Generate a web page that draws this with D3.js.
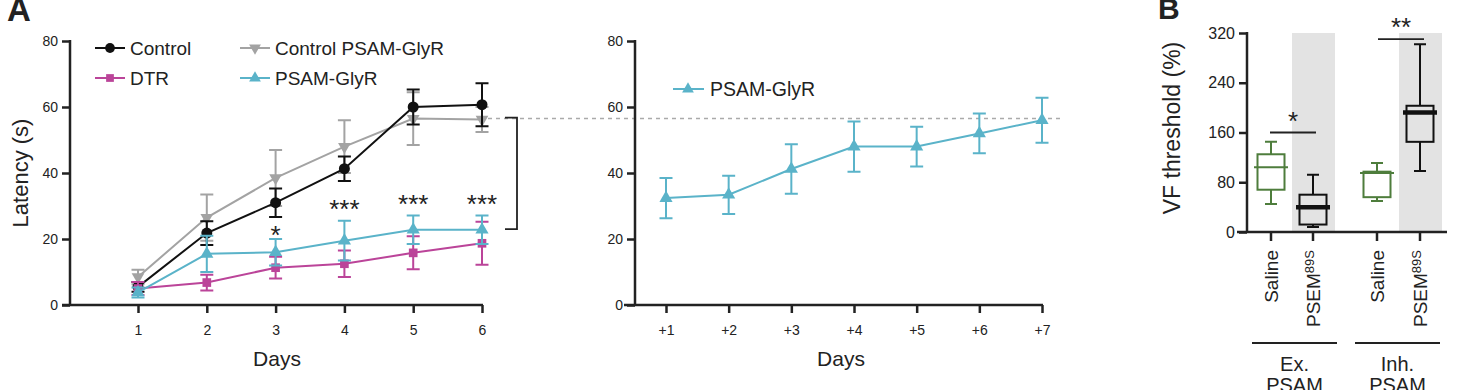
<!DOCTYPE html>
<html>
<head>
<meta charset="utf-8">
<script src="https://cdn.jsdelivr.net/npm/d3@7"></script>
<style>
  body { margin: 0; background: #fff; }
  text { font-family: Arial, "Liberation Sans", Helvetica, sans-serif; fill: #222; }
</style>
</head>
<body>
<div id="chart"></div>
<script>
// ---- data ----
var days = [1, 2, 3, 4, 5, 6];
var control      = [5.5, 21.8, 31, 41.3, 60, 60.7];
var controlErr   = [1.5, 3.6, 4.3, 3.7, 5.3, 6.5];
var ctrlPsam     = [8.5, 26.5, 38.5, 48, 56.5, 56.2];
var ctrlPsamErr  = [2.2, 7, 8.5, 8, 8, 3.8];
var dtr          = [5, 6.8, 11.3, 12.5, 15.8, 18.7];
var dtrErr       = [2, 2.4, 3.3, 4, 5, 6.5];
var psam         = [3.8, 15.5, 16, 19.5, 22.8, 22.8];
var psamErr      = [1.5, 5.5, 4, 6, 4.3, 4.3];
var starsA       = [null, null, '*', '***', '***', '***'];
var starLevel    = [null, null, 23, 31, 32.5, 32.5];

var recDays = ['+1', '+2', '+3', '+4', '+5', '+6', '+7'];
var recovery    = [32.4, 33.4, 41.2, 48, 48, 52, 56];
var recoveryErr = [6.1, 5.8, 7.5, 7.6, 6, 6, 6.8];
var baseline = 56.5;

var groupsB = ['Saline', 'PSEM', 'Saline', 'PSEM'];
var boxMin  = [45, 8, 50, 98];
var boxQ1   = [68, 12, 56, 145];
var boxMed  = [104, 40, 95, 192];
var boxQ3   = [125, 60, 97, 203];
var boxMax  = [145, 92, 111, 302];
var boxCol  = ['#4e7d3c', '#111', '#4e7d3c', '#111'];

var colBlack = '#111', colGray = '#a3a3a3', colMag = '#bb4499', colCyan = '#5ab3c9';

var svg = d3.select('#chart').append('svg')
            .attr('width', 1469).attr('height', 390);

function styleAxis(g, fs) {
  g.selectAll('path, line').attr('stroke', '#222').attr('stroke-width', 2.5);
  g.selectAll('text').style('font-size', fs + 'px').attr('fill', '#222');
}

// ---- panel A left ----
var yA = d3.scaleLinear().domain([0, 80]).range([305, 41]);
var xA = d3.scaleLinear().domain([1, 6]).range([138, 482]);

svg.append('text').attr('x', 7).attr('y', 21).text('A')
   .style('font-size', '33px').style('font-weight', 'bold').attr('fill', '#111');

// dashed baseline across to the right panel
svg.append('line')
   .attr('x1', 488).attr('x2', 1063)
   .attr('y1', yA(baseline)).attr('y2', yA(baseline))
   .attr('stroke', '#aaa').attr('stroke-width', 1.5).attr('stroke-dasharray', '4,4');

var gyA = svg.append('g').attr('transform', 'translate(70,0)')
             .call(d3.axisLeft(yA).tickValues([0, 20, 40, 60, 80]).tickSize(8).tickSizeOuter(0).tickPadding(4));
styleAxis(gyA, 14);
gyA.select('path').attr('d', 'M0,' + (yA(80) - 1) + 'V' + yA(0));

var gxA = svg.append('g').attr('transform', 'translate(0,305)')
             .call(d3.axisBottom(xA).tickValues(days).tickFormat(d3.format('d'))
                     .tickSize(8).tickSizeOuter(0).tickPadding(12));
styleAxis(gxA, 14);
gxA.select('path').attr('d', 'M62,0H' + (xA(6) + 1));

svg.append('text').attr('transform', 'translate(28,173) rotate(-90)')
   .attr('text-anchor', 'middle').text('Latency (s)').style('font-size', '22px');
svg.append('text').attr('x', 277).attr('y', 366)
   .attr('text-anchor', 'middle').text('Days').style('font-size', '21px');

function drawSeries(xs, x, y, vals, errs, color, shape, size) {
  var g = svg.append('g');
  var pts = xs.map(function(d, i) { return {x: x(d), v: vals[i], e: errs[i]}; });
  g.selectAll('.eb').data(pts).enter().append('path')
   .attr('d', function(d) {
     var t = y(d.v + d.e), b = y(d.v - d.e);
     return 'M' + d.x + ',' + t + 'V' + b +
            'M' + (d.x - 6.5) + ',' + t + 'H' + (d.x + 6.5) +
            'M' + (d.x - 6.5) + ',' + b + 'H' + (d.x + 6.5);
   })
   .attr('stroke', color).attr('stroke-width', 2).attr('fill', 'none');
  g.append('path')
   .datum(pts)
   .attr('d', d3.line().x(function(d) { return d.x; }).y(function(d) { return y(d.v); }))
   .attr('stroke', color).attr('stroke-width', 2).attr('fill', 'none');
  g.selectAll('.mk').data(pts).enter().append('path')
   .attr('transform', function(d) {
     return 'translate(' + d.x + ',' + y(d.v) + ')' + (shape === 'tridown' ? ' rotate(180)' : '');
   })
   .attr('d', d3.symbol().type(shape === 'circle' ? d3.symbolCircle :
                                 shape === 'square' ? d3.symbolSquare : d3.symbolTriangle).size(size))
   .attr('fill', color);
}

drawSeries(days, xA, yA, ctrlPsam, ctrlPsamErr, colGray, 'tridown', 70);
drawSeries(days, xA, yA, control, controlErr, colBlack, 'circle', 95);
drawSeries(days, xA, yA, dtr, dtrErr, colMag, 'square', 75);
drawSeries(days, xA, yA, psam, psamErr, colCyan, 'triangle', 75);

// significance stars
svg.selectAll('.starA').data(days).enter().append('text')
   .filter(function(d, i) { return starsA[i]; })
   .attr('x', function(d) { return xA(d); })
   .attr('y', function(d) { return yA(starLevel[d - 1]) + 15; })
   .attr('text-anchor', 'middle').style('font-size', '26px')
   .text(function(d) { return starsA[d - 1]; });

// bracket
svg.append('path')
   .attr('d', 'M505,' + yA(56.8) + 'H517V' + yA(23) + 'H505')
   .attr('stroke', '#222').attr('stroke-width', 1.8).attr('fill', 'none');

// legend
var legA = [
  {label: 'Control', color: colBlack, shape: 'circle', x: 95, y: 48, size: 75},
  {label: 'Control PSAM-GlyR', color: colGray, shape: 'tridown', x: 240, y: 48, size: 60},
  {label: 'DTR', color: colMag, shape: 'square', x: 95, y: 78, size: 60},
  {label: 'PSAM-GlyR', color: colCyan, shape: 'triangle', x: 240, y: 78, size: 60}
];
var lg = svg.selectAll('.legA').data(legA).enter().append('g');
lg.append('line').attr('x1', function(d) { return d.x; }).attr('x2', function(d) { return d.x + 30; })
  .attr('y1', function(d) { return d.y; }).attr('y2', function(d) { return d.y; })
  .attr('stroke', function(d) { return d.color; }).attr('stroke-width', 2);
lg.append('path')
  .attr('transform', function(d) {
    return 'translate(' + (d.x + 15) + ',' + d.y + ')' + (d.shape === 'tridown' ? ' rotate(180)' : '');
  })
  .attr('d', function(d) {
    return d3.symbol().type(d.shape === 'circle' ? d3.symbolCircle :
                            d.shape === 'square' ? d3.symbolSquare : d3.symbolTriangle).size(d.size)();
  })
  .attr('fill', function(d) { return d.color; });
lg.append('text').attr('x', function(d) { return d.x + 35; }).attr('y', function(d) { return d.y + 7; })
  .text(function(d) { return d.label; }).style('font-size', '19px');

// ---- panel A right ----
var xR = d3.scalePoint().domain(recDays).range([666, 1042]);
var gyR = svg.append('g').attr('transform', 'translate(635,0)')
             .call(d3.axisLeft(yA).tickValues([0, 20, 40, 60, 80]).tickSize(8).tickSizeOuter(0).tickPadding(4));
styleAxis(gyR, 14);
gyR.select('path').attr('d', 'M0,' + (yA(80) - 1) + 'V' + yA(0));
var gxR = svg.append('g').attr('transform', 'translate(0,305)')
             .call(d3.axisBottom(xR).tickSize(8).tickSizeOuter(0).tickPadding(12));
styleAxis(gxR, 14);
gxR.select('path').attr('d', 'M624,0H' + (xR('+7') + 1));
svg.append('text').attr('x', 841).attr('y', 366)
   .attr('text-anchor', 'middle').text('Days').style('font-size', '21px');

drawSeries(recDays, xR, yA, recovery, recoveryErr, colCyan, 'triangle', 75);

var lr = svg.append('g');
lr.append('line').attr('x1', 673).attr('x2', 704).attr('y1', 89).attr('y2', 89)
  .attr('stroke', colCyan).attr('stroke-width', 2);
lr.append('path').attr('transform', 'translate(688,89)')
  .attr('d', d3.symbol().type(d3.symbolTriangle).size(60)).attr('fill', colCyan);
lr.append('text').attr('x', 710).attr('y', 96).text('PSAM-GlyR').style('font-size', '19.5px');

// ---- panel B ----
var yB = d3.scaleLinear().domain([0, 320]).range([232, 33]);
var xB = d3.scaleOrdinal().domain([0, 1, 2, 3]).range([1271, 1313, 1377, 1420]);

svg.append('text').attr('x', 1158).attr('y', 19).text('B')
   .style('font-size', '30px').style('font-weight', 'bold').attr('fill', '#111');

// grey shading behind PSEM groups
svg.selectAll('.shade').data([1, 3]).enter().append('rect')
   .attr('x', function(d) { return xB(d) - 21; }).attr('width', 43)
   .attr('y', yB(320)).attr('height', yB(0) - yB(320))
   .attr('fill', '#e3e3e3');

var gyB = svg.append('g').attr('transform', 'translate(1247,0)')
             .call(d3.axisLeft(yB).tickValues([0, 80, 160, 240, 320]).tickSize(8).tickSizeOuter(0).tickPadding(4));
styleAxis(gyB, 16);
gyB.select('path').attr('d', 'M0,' + (yB(320) - 1) + 'V' + yB(0));
var gxB = svg.append('g').attr('transform', 'translate(0,232)');
gxB.append('path').attr('d', 'M1237,0H1447').attr('stroke', '#222').attr('stroke-width', 2.5);
gxB.selectAll('.tk').data([0, 1, 2, 3]).enter().append('line')
   .attr('x1', function(d) { return xB(d); }).attr('x2', function(d) { return xB(d); })
   .attr('y1', 0).attr('y2', 9).attr('stroke', '#222').attr('stroke-width', 2.5);

svg.append('text').attr('transform', 'translate(1180,128) rotate(-90)')
   .attr('text-anchor', 'middle').text('VF threshold (%)').style('font-size', '23px');

// boxes
var bw = 27;
var bx = svg.selectAll('.box').data([0, 1, 2, 3]).enter().append('g');
bx.append('path')
  .attr('d', function(i) {
    var c = xB(i);
    return 'M' + c + ',' + yB(boxMax[i]) + 'V' + yB(boxQ3[i]) +
           'M' + c + ',' + yB(boxQ1[i]) + 'V' + yB(boxMin[i]) +
           'M' + (c - 6) + ',' + yB(boxMax[i]) + 'H' + (c + 6) +
           'M' + (c - 6) + ',' + yB(boxMin[i]) + 'H' + (c + 6);
  })
  .attr('stroke', function(i) { return boxCol[i]; }).attr('stroke-width', 2).attr('fill', 'none');
bx.append('rect')
  .attr('x', function(i) { return xB(i) - bw / 2; }).attr('width', bw)
  .attr('y', function(i) { return yB(boxQ3[i]); })
  .attr('height', function(i) { return yB(boxQ1[i]) - yB(boxQ3[i]); })
  .attr('fill', 'none').attr('stroke', function(i) { return boxCol[i]; }).attr('stroke-width', 2);
bx.append('line')
  .attr('x1', function(i) { return xB(i) - 17; }).attr('x2', function(i) { return xB(i) + 17; })
  .attr('y1', function(i) { return yB(boxMed[i]); }).attr('y2', function(i) { return yB(boxMed[i]); })
  .attr('stroke', function(i) { return boxCol[i]; })
  .attr('stroke-width', function(i) { return i % 2 ? 4.5 : 2; });

// significance
var sigB = [{x1: 1270, x2: 1316, v: 160, t: '*'}, {x1: 1378, x2: 1424, v: 310, t: '**'}];
svg.selectAll('.sigB').data(sigB).enter().append('line')
   .attr('x1', function(d) { return d.x1; }).attr('x2', function(d) { return d.x2; })
   .attr('y1', function(d) { return yB(d.v); }).attr('y2', function(d) { return yB(d.v); })
   .attr('stroke', '#222').attr('stroke-width', 1.8);
svg.selectAll('.sigBt').data(sigB).enter().append('text')
   .attr('x', function(d) { return (d.x1 + d.x2) / 2; })
   .attr('y', function(d) { return yB(d.v) - 3; })
   .attr('text-anchor', 'middle').style('font-size', '26px')
   .text(function(d) { return d.t; });

// rotated category labels
var cl = svg.selectAll('.catB').data(groupsB).enter().append('text')
   .attr('transform', function(d, i) { return 'translate(' + (xB(i) + 7) + ',250) rotate(-90)'; })
   .attr('text-anchor', 'end').style('font-size', '19px');
cl.append('tspan').text(function(d) { return d; });
cl.filter(function(d) { return d === 'PSEM'; }).append('tspan')
  .attr('dy', '-0.45em').style('font-size', '13px').text('89S');

// group labels
var grpB = [{x1: 1252, x2: 1337, a: 'Ex.', b: 'PSAM'}, {x1: 1355, x2: 1440, a: 'Inh.', b: 'PSAM'}];
var gg = svg.selectAll('.grpB').data(grpB).enter().append('g');
gg.append('line').attr('x1', function(d) { return d.x1; }).attr('x2', function(d) { return d.x2; })
  .attr('y1', 343).attr('y2', 343).attr('stroke', '#222').attr('stroke-width', 1.8);
gg.append('text').attr('x', function(d) { return (d.x1 + d.x2) / 2; }).attr('y', 371)
  .attr('text-anchor', 'middle').style('font-size', '20px').text(function(d) { return d.a; });
gg.append('text').attr('x', function(d) { return (d.x1 + d.x2) / 2; }).attr('y', 392)
  .attr('text-anchor', 'middle').style('font-size', '20px').text(function(d) { return d.b; });
</script>
</body>
</html>
